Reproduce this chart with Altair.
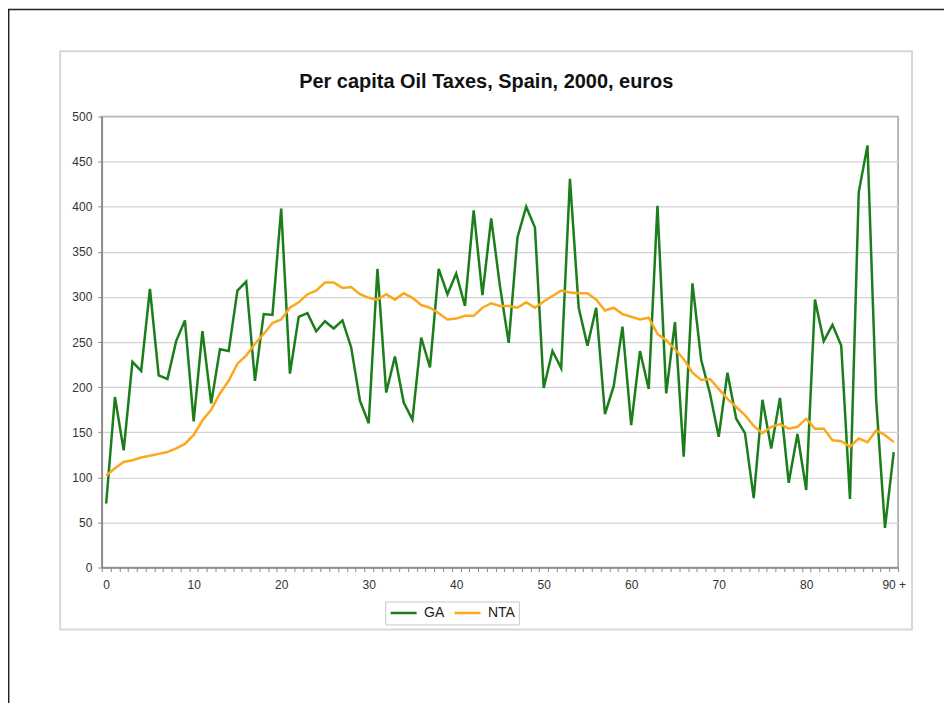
import altair as alt
import pandas as pd

TITLE = "Per capita Oil Taxes, Spain, 2000, euros"
SERIES = ["GA", "NTA"]
COLORS = ["#1b7e1b", "#fca81d"]

ages = list(range(91))

ga = [71, 189, 130, 228, 218, 309, 213, 209, 251, 274,
      162, 262, 182, 242, 240, 307, 317, 207, 281, 280,
      398, 215, 278, 282, 262, 273, 265, 274, 244, 185,
      160, 331, 194, 234, 183, 164, 255, 222, 331, 303,
      326, 290, 396, 302, 387, 312, 249, 366, 400, 377,
      199, 240, 221, 431, 288, 246, 288, 170, 201, 267,
      158, 240, 198, 401, 193, 272, 123, 315, 230, 193,
      145, 216, 165, 149, 77, 186, 132, 188, 94, 148,
      86, 297, 251, 269, 246, 76, 416, 468, 185, 44,
      128]

nta = [102, 110, 117, 119, 122, 124, 126, 128, 132, 137,
       147, 163, 175, 193, 207, 226, 235, 248, 259, 271,
       275, 288, 294, 303, 307, 316, 316, 310, 311, 303,
       299, 297, 303, 297, 304, 299, 291, 288, 282, 275,
       276, 279, 279, 288, 293, 290, 290, 288, 294, 288,
       295, 301, 307, 305, 304, 304, 297, 285, 288, 281,
       278, 275, 277, 259, 252, 242, 231, 216, 208, 209,
       198, 187, 178, 169, 157, 149, 156, 159, 154, 156,
       165, 154, 154, 141, 140, 134, 143, 139, 152, 147,
       139]

y_ticks = [0, 50, 100, 150, 200, 250, 300, 350, 400, 450, 500]
# category boundaries for the minor ticks of the x axis
x_bounds = [a - 0.5 for a in ages] + [90.5]

df = pd.DataFrame({
    "age": ages + ages,
    "series": ["GA"] * len(ages) + ["NTA"] * len(ages),
    "value": ga + nta,
})

W, H = 798, 452
FONT = "Liberation Sans"

label_expr = ("((datum.value + 0.5) % 10 == 0) ? "
              "((datum.value + 0.5) == 90 ? '90 +' : format(datum.value + 0.5, 'd')) : ''")

lines = alt.Chart(df).mark_line(strokeWidth=2.5, interpolate="linear").encode(
    x=alt.X("age:Q",
            scale=alt.Scale(domain=[-0.5, 90.5], nice=False, zero=False),
            axis=alt.Axis(values=x_bounds, labelExpr=label_expr, labelOffset=W / 91 / 2,
                          tickSize=4, labelPadding=8, grid=False, title=None,
                          labelFlush=False, labelOverlap=False)),
    y=alt.Y("value:Q",
            scale=alt.Scale(domain=[0, 500], nice=False),
            axis=alt.Axis(values=y_ticks, title=None, tickSize=4, labelPadding=6,
                          grid=True, gridColor="#d2d2d2", gridWidth=1.2)),
    color=alt.Color("series:N",
                    scale=alt.Scale(domain=SERIES, range=COLORS),
                    legend=alt.Legend(orient="none", legendX=284, legendY=486,
                                      direction="horizontal", title=None,
                                      symbolType="stroke", symbolSize=676,
                                      symbolStrokeWidth=2.5, labelFontSize=14,
                                      labelFont=FONT, labelColor="#222",
                                      padding=4, strokeColor="#c8c8c8",
                                      fillColor="white", columnPadding=8,
                                      labelOffset=6, clipHeight=15)),
)

deco = pd.DataFrame({"k": [0]})

outer = alt.Chart(deco).mark_rect(fill="transparent", stroke="#222", strokeWidth=1.5).encode(
    x=alt.value(-93.3), x2=alt.value(1200), y=alt.value(-107.3), y2=alt.value(1200))

frame = alt.Chart(deco).mark_rect(fill="transparent", stroke="#d8d8d8", strokeWidth=2).encode(
    x=alt.value(-41.7), x2=alt.value(812), y=alt.value(-65.3), y2=alt.value(514))

title = alt.Chart(deco).mark_text(text=TITLE, font=FONT, fontSize=20, fontWeight="bold",
                                  align="center", baseline="alphabetic", color="#111").encode(
    x=alt.value(385.3), y=alt.value(-29))

chart = alt.layer(outer, frame, title, lines).properties(
    width=W, height=H,
    padding={"left": 94, "top": 108, "right": 46, "bottom": 135},
    autosize=alt.AutoSizeParams(type="none"),
    background="white",
).configure_view(
    stroke="#a0a0a0", strokeWidth=1.5
).configure_axis(
    labelFont=FONT, labelFontSize=12, labelColor="#333",
    domainColor="#888", domainWidth=1.5, tickColor="#888", tickWidth=1
)

chart.save("out.html", embed_options={"renderer": "svg", "actions": False})
